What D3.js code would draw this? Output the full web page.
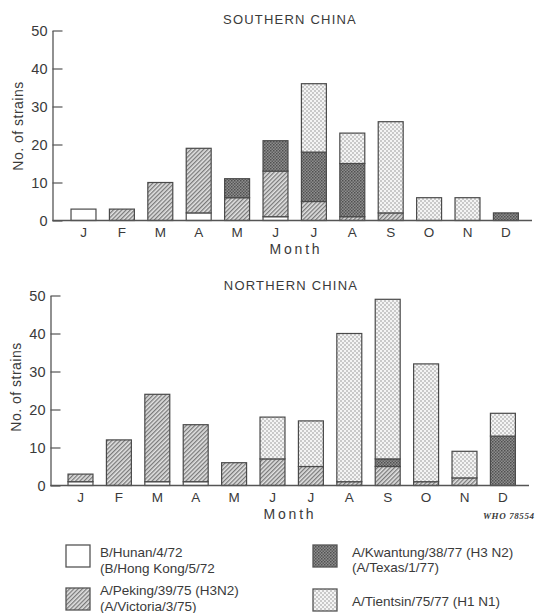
<!DOCTYPE html>
<html>
<head>
<meta charset="utf-8">
<script src="https://cdn.jsdelivr.net/npm/d3@7"></script>
<style>
  body { margin: 0; background: #fff; }
  text { font-family: "Liberation Sans", Arial, sans-serif; fill: #3a3a3a; }
</style>
</head>
<body>
<script>
const WIDTH = 558
const HEIGHT = 613

// data (number of strains per month)
const months = ["J", "F", "M", "A", "M", "J", "J", "A", "S", "O", "N", "D"]
const keys = ["hunan", "peking", "kwantung", "tientsin"]

const southHunan    = [3, 0, 0, 2, 0, 1, 0, 0, 0, 0, 0, 0]
const southPeking   = [0, 3, 10, 17, 6, 12, 5, 1, 2, 0, 0, 0]
const southKwantung = [0, 0, 0, 0, 5, 8, 13, 14, 0, 0, 0, 2]
const southTientsin = [0, 0, 0, 0, 0, 0, 18, 8, 24, 6, 6, 0]

const northHunan    = [1, 0, 1, 1, 0, 0, 0, 0, 0, 0, 0, 0]
const northPeking   = [2, 12, 23, 15, 6, 7, 5, 1, 5, 1, 2, 0]
const northKwantung = [0, 0, 0, 0, 0, 0, 0, 0, 2, 0, 0, 13]
const northTientsin = [0, 0, 0, 0, 0, 11, 12, 39, 42, 31, 7, 6]

const yTicks = [0, 10, 20, 30, 40, 50]

const legendLabels = [
    ["B/Hunan/4/72", "(B/Hong Kong/5/72"],
    ["A/Peking/39/75 (H3N2)", "(A/Victoria/3/75)"],
    ["A/Kwantung/38/77 (H3 N2)", "(A/Texas/1/77)"],
    ["A/Tientsin/75/77 (H1 N1)"]
]

const svg = d3.select("body")
    .append("svg")
    .attr("width", WIDTH)
    .attr("height", HEIGHT)

svg.append("rect").attr("width", WIDTH).attr("height", HEIGHT).attr("fill", "#fff")

// fill patterns (like the printed shading)
const defs = svg.append("defs")

defs.append("pattern")
    .attr("id", "hatch")
    .attr("patternUnits", "userSpaceOnUse")
    .attr("width", 3).attr("height", 3)
    .attr("patternTransform", "rotate(45)")
  .call(p => {
    p.append("rect").attr("width", 3).attr("height", 3).attr("fill", "#e2e2e2")
    p.append("line").attr("x1", 0.7).attr("y1", 0).attr("x2", 0.7).attr("y2", 3)
        .attr("stroke", "#666").attr("stroke-width", 1.1)
  })

defs.append("pattern")
    .attr("id", "dark")
    .attr("patternUnits", "userSpaceOnUse")
    .attr("width", 3).attr("height", 3)
  .call(p => {
    p.append("rect").attr("width", 3).attr("height", 3).attr("fill", "#8e8e8e")
    p.append("rect").attr("width", 1.5).attr("height", 1.5).attr("fill", "#505050")
    p.append("rect").attr("x", 1.5).attr("y", 1.5).attr("width", 1.5).attr("height", 1.5).attr("fill", "#5c5c5c")
  })

defs.append("pattern")
    .attr("id", "stipple")
    .attr("patternUnits", "userSpaceOnUse")
    .attr("width", 4).attr("height", 4)
  .call(p => {
    p.append("rect").attr("width", 4).attr("height", 4).attr("fill", "#f4f4f4")
    p.append("circle").attr("cx", 1).attr("cy", 1).attr("r", 0.7).attr("fill", "#7e7e7e")
    p.append("circle").attr("cx", 3).attr("cy", 3).attr("r", 0.7).attr("fill", "#7e7e7e")
  })

const fills = {
    hunan: "#ffffff",
    peking: "url(#hatch)",
    kwantung: "url(#dark)",
    tientsin: "url(#stipple)"
}

function buildRows(hunan, peking, kwantung, tientsin) {
    return months.map((m, i) => ({
        i: i,
        hunan: hunan[i],
        peking: peking[i],
        kwantung: kwantung[i],
        tientsin: tientsin[i]
    }))
}

function drawChart(rows, o) {
    const g = svg.append("g")

    const x = d3.scaleBand()
        .domain(d3.range(months.length))
        .range([o.x0, o.x1])
        .paddingInner(0.35)
        .paddingOuter(0.175)

    const y = d3.scaleLinear()
        .domain([0, 50])
        .range([o.base, o.top])

    const series = d3.stack().keys(keys)(rows)

    g.selectAll("g.layer")
        .data(series)
        .join("g")
        .attr("class", "layer")
        .attr("fill", d => fills[d.key])
        .selectAll("rect")
        .data(d => d.filter(s => s[1] > s[0]))
        .join("rect")
        .attr("x", d => x(d.data.i))
        .attr("y", d => y(d[1]))
        .attr("width", x.bandwidth())
        .attr("height", d => y(d[0]) - y(d[1]))
        .attr("stroke", "#4a4a4a")
        .attr("stroke-width", 1.2)

    // y axis, ticks pointing into the plot
    const yAxis = g.append("g")
        .attr("transform", `translate(${o.axisX},0)`)
        .call(d3.axisLeft(y).tickValues(yTicks).tickSize(-10).tickSizeOuter(0).tickPadding(5))
    yAxis.select(".domain").attr("stroke", "#555").attr("stroke-width", 1.3)
    yAxis.selectAll(".tick line").attr("stroke", "#555").attr("stroke-width", 1.2)
    yAxis.selectAll(".tick text")
        .style("font-family", "'Liberation Sans', Arial, sans-serif")
        .style("font-size", "14.5px")
        .attr("fill", "#3a3a3a")

    // baseline
    g.append("line")
        .attr("x1", o.axisX).attr("x2", o.lineEnd)
        .attr("y1", y(0)).attr("y2", y(0))
        .attr("stroke", "#555").attr("stroke-width", 1.4)

    const xAxis = g.append("g")
        .attr("transform", `translate(0,${y(0)})`)
        .call(d3.axisBottom(x).tickSize(0).tickPadding(7).tickFormat(i => months[i]))
    xAxis.select(".domain").remove()
    xAxis.selectAll(".tick text")
        .style("font-family", "'Liberation Sans', Arial, sans-serif")
        .style("font-size", "13.5px")
        .attr("fill", "#3a3a3a")

    g.append("text")
        .attr("x", o.titleX).attr("y", o.titleY)
        .attr("text-anchor", "middle")
        .style("font-size", "13px")
        .style("letter-spacing", "1.2px")
        .text(o.title)

    g.append("text")
        .attr("x", o.monthX).attr("y", o.monthY)
        .attr("text-anchor", "middle")
        .style("font-size", "14px")
        .style("letter-spacing", "2.8px")
        .text("Month")

    g.append("text")
        .attr("transform", `translate(${o.labelX},${o.labelY}) rotate(-90)`)
        .attr("text-anchor", "middle")
        .attr("dy", "0.35em")
        .style("font-size", "14px")
        .style("letter-spacing", "0.5px")
        .text("No. of strains")
}

drawChart(buildRows(southHunan, southPeking, southKwantung, southTientsin), {
    title: "SOUTHERN CHINA",
    x0: 64.3, x1: 525.1, axisX: 52.5, lineEnd: 532,
    base: 220.5, top: 30.5,
    titleX: 290, titleY: 23.5,
    monthX: 296, monthY: 254,
    labelX: 18, labelY: 126
})

drawChart(buildRows(northHunan, northPeking, northKwantung, northTientsin), {
    title: "NORTHERN CHINA",
    x0: 61.3, x1: 522.1, axisX: 50.5, lineEnd: 529,
    base: 485.5, top: 295.5,
    titleX: 291, titleY: 289.5,
    monthX: 290, monthY: 519,
    labelX: 16, labelY: 387
})

svg.append("text")
    .attr("x", 483).attr("y", 519)
    .style("font-family", "'Liberation Serif', serif")
    .style("font-style", "italic")
    .style("font-weight", "bold")
    .style("font-size", "9px")
    .style("letter-spacing", "0.6px")
    .text("WHO 78554")

// legend
const legendPos = [
    { bx: 66, by: 545, tx: 100, ty: [557, 573] },
    { bx: 66, by: 588, tx: 100, ty: [595, 611] },
    { bx: 313, by: 545, tx: 352, ty: [557, 572] },
    { bx: 313, by: 589, tx: 352, ty: [606] }
]

const legend = svg.append("g")
keys.forEach((k, i) => {
    const p = legendPos[i]
    legend.append("rect")
        .attr("x", p.bx).attr("y", p.by)
        .attr("width", 24).attr("height", 22)
        .attr("fill", fills[k])
        .attr("stroke", "#555").attr("stroke-width", 1.3)
    legendLabels[i].forEach((line, j) => {
        legend.append("text")
            .attr("x", p.tx).attr("y", p.ty[j])
            .style("font-size", "13.5px")
            .text(line)
    })
})
</script>
</body>
</html>
